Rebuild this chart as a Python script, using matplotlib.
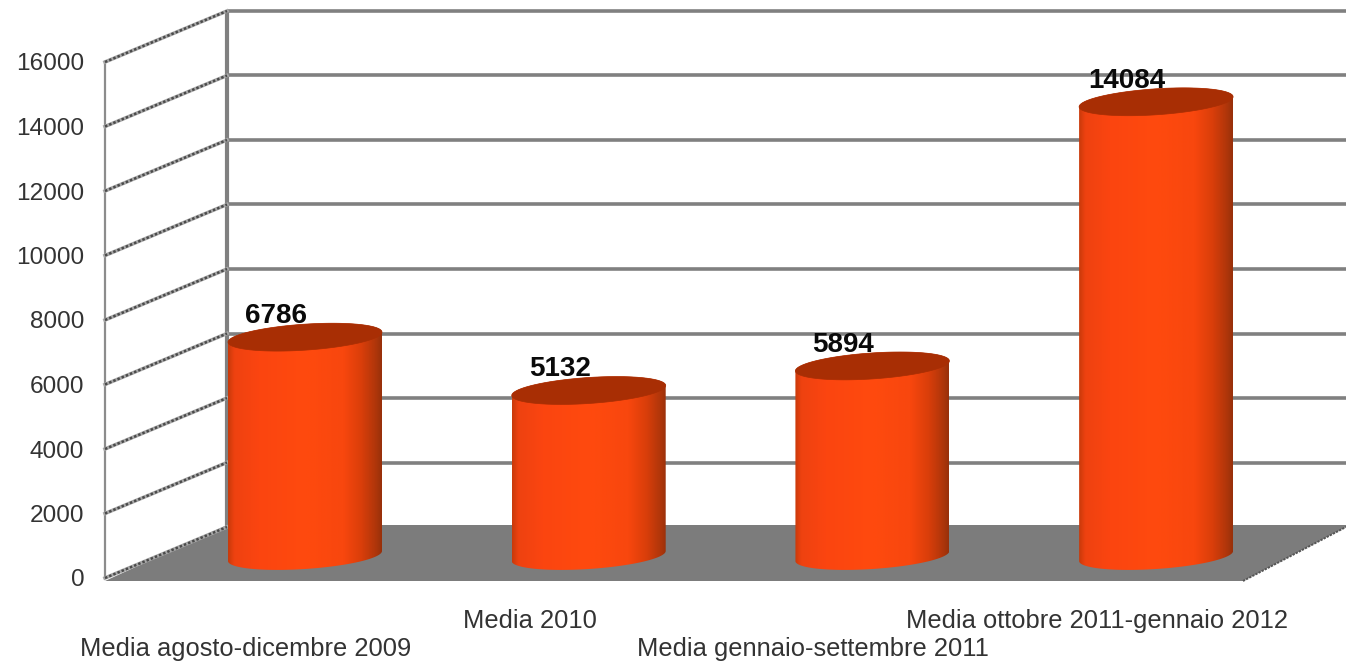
import numpy as np
import matplotlib
matplotlib.use("Agg")
import matplotlib.pyplot as plt
from matplotlib.colors import LinearSegmentedColormap
from matplotlib.patches import Polygon

categories = ["Media agosto-dicembre 2009", "Media 2010",
              "Media gennaio-settembre 2011", "Media ottobre 2011-gennaio 2012"]
values = [6786, 5132, 5894, 14084]
y_ticks = [0, 2000, 4000, 6000, 8000, 10000, 12000, 14000, 16000]

W, H = 1346, 662
PX_LEFT, PX_BASE, PX_TOP = 105, 578, 62
PX_PER_CAT = 283.7
PX_CAT0 = 305
fig = plt.figure(figsize=(W / 100, H / 100), dpi=100)
plt.rcParams["font.family"] = ["Liberation Sans", "DejaVu Sans"]
ax = fig.add_axes([PX_LEFT / W, 1 - PX_BASE / H, (W - PX_LEFT) / W, (PX_BASE - PX_TOP) / H])
ax.set_xlim((PX_LEFT - PX_CAT0) / PX_PER_CAT, (W - PX_CAT0) / PX_PER_CAT)
ax.set_ylim(0, 16000)
UX = PX_PER_CAT
UY = (PX_BASE - PX_TOP) / 16000
def dx(px):
    return px / UX
def dy(px):
    return px / UY

x0 = ax.get_xlim()[0]
x1 = ax.get_xlim()[1]
wall_x = x0 + dx(122)
wall_dy = dy(51)
GRAY = "#808080"

# floor
floor = Polygon([(x0, dy(-3)), (x0 + dx(1138), dy(-3)), (x1, wall_dy - dy(0)), (x1, wall_dy + dy(2)),
                 (wall_x, wall_dy + dy(2))], closed=True, fc="#7c7c7c", ec="none", clip_on=False, zorder=1)
ax.add_patch(floor)
ax.plot([x0 + dx(1138), x1], [dy(-3), wall_dy], color="#555555", lw=1.4, ls=(0, (1.2, 0.6)), clip_on=False, zorder=1.5)

# walls and gridlines
for t in y_ticks:
    if t > 0:
        ax.plot([wall_x, x1], [t + wall_dy, t + wall_dy], color=GRAY, lw=2.6, clip_on=False, zorder=1,
                solid_capstyle="butt")
    ax.plot([x0, wall_x], [t, t + wall_dy], color="#a8a8a8", lw=2.6, clip_on=False, zorder=1.2)
    ax.plot([x0, wall_x], [t, t + wall_dy], color="#4a4a4a", lw=1.8, ls=(0, (1.0, 0.8)), clip_on=False, zorder=1.3)
ax.plot([wall_x, wall_x], [wall_dy, 16000 + wall_dy], color=GRAY, lw=3, clip_on=False, zorder=1.1,
        solid_capstyle="butt")
ax.plot([x0, x0], [0, 16000], color="#8c8c8c", lw=1.6, clip_on=False, zorder=1.1)

# cylinders
cmap = LinearSegmentedColormap.from_list("cyl", [
    (0.0, "#c93a0a"), (0.04, "#ee4210"), (0.2, "#fb4510"), (0.5, "#ff4a0e"),
    (0.75, "#f8470e"), (0.87, "#d93e0a"), (0.96, "#b0360a"), (1.0, "#98300a")])
half_w = dx(77)
ell_b = dy(13)
tilt = dy(5) / half_w
grad = np.linspace(0, 1, 256).reshape(1, -1)
t = np.linspace(0, 2 * np.pi, 181)
for i, v in enumerate(values):
    yb = dy(22)
    yt = yb + v
    ex = i + half_w * np.cos(t)
    off = ell_b * np.sin(t) + tilt * (half_w * np.cos(t))
    lower = np.sin(t) <= 0
    order = np.argsort(ex[lower])
    bx, by = ex[lower][order], (yb + off[lower])[order]
    upper = np.sin(t) >= 0
    order = np.argsort(ex[upper])
    ux, uy = ex[upper][order], (yt + off[upper])[order]
    body = Polygon(np.r_[np.c_[bx, by], np.c_[ux[::-1], uy[::-1]]], closed=True, fc="none", ec="none",
                   transform=ax.transData, clip_on=False)
    ax.add_patch(body)
    im = ax.imshow(grad, cmap=cmap, aspect="auto", zorder=3, interpolation="bilinear",
                   extent=[i - half_w, i + half_w, yb - 2 * ell_b, yt + 2 * ell_b])
    im.set_clip_path(body)
    ax.add_patch(Polygon(np.c_[ex, yt + off], closed=True, fc="#a82e04", ec="#a82e04", lw=0.5, zorder=4,
                         clip_on=False))
    ax.text(i - dx(29), yt + dy(8), str(v), fontsize=20, fontweight="bold", color="#0a0a0a",
            ha="center", va="bottom", zorder=5)
ax.set_xlim(x0, x1)
ax.set_ylim(0, 16000)

# axes labels
ax.set_yticks(y_ticks)
ax.tick_params(axis="y", length=0, pad=15, labelsize=17.6, labelcolor="#333333")
ax.set_xticks([i - dx(59) for i in range(len(categories))])
ax.set_xticklabels(categories)
ax.tick_params(axis="x", length=0, labelsize=18.4, labelcolor="#333333")
for i, tick in enumerate(ax.xaxis.get_major_ticks()):
    tick.set_pad(42.5 if i % 2 == 0 else 22)
    tick.label1.set_clip_on(False)
for s in ax.spines.values():
    s.set_visible(False)
ax.patch.set_alpha(0)
fig.savefig("out.png", dpi=100, facecolor="white")
